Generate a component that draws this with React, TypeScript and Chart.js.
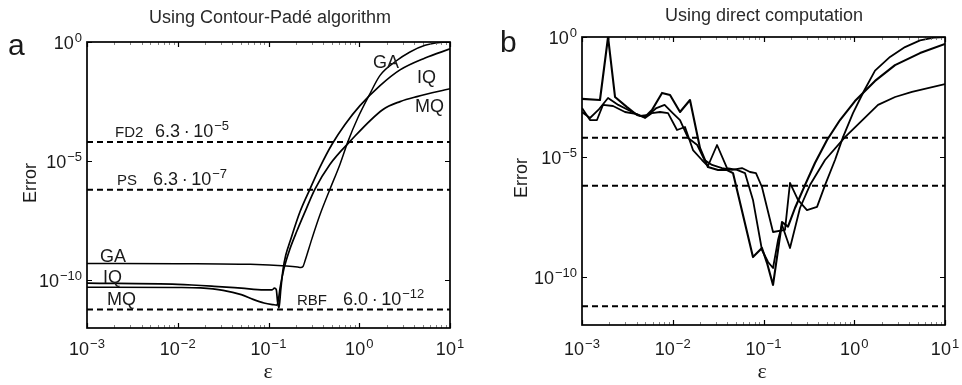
import React, { useEffect, useRef } from "react";
import { Chart, registerables } from "chart.js";

Chart.register(...registerables);

// ---------------- data (values are log10 readings off the log axes) ----------------
const EPS_MIN = 1e-3;
const EPS_MAX = 10;
const ERR_MIN = 1e-12;
const ERR_MAX = 1;
const EPS_TICKS = [1e-3, 1e-2, 1e-1, 1, 10];
const ERR_TICKS = [1e-10, 1e-5, 1];

const REF_NAMES = ["FD2", "PS", "RBF"];
const REF_VALUES = [6.3e-5, 6.3e-7, 6.0e-12];
const REF_MANTISSAS = ["6.3", "6.3", "6.0"];
const REF_EXPONENTS = [-5, -7, -12];

const BASIS_NAMES = ["GA", "IQ", "MQ"];

// Panel a: Contour-Padé
const gaPadeLogEps = [-3, -2, -1.2, -0.8, -0.68, -0.645, -0.62, -0.6, -0.521, -0.433, -0.322, -0.212, -0.124, -0.014, 0.107, 0.229, 0.394, 0.559, 0.725, 0.89, 1.0];
const gaPadeLogErr = [-9.29, -9.3, -9.33, -9.4, -9.44, -9.46, -9.42, -9.21, -8.25, -7.25, -6.17, -5.125, -4.17, -3.17, -2.25, -1.4, -0.83, -0.42, -0.14, -0.02, 0];

const iqPadeLogEps = [-3, -2, -1.6, -1.3, -1.05, -0.96, -0.935, -0.915, -0.9, -0.885, -0.865, -0.84, -0.81, -0.763, -0.653, -0.543, -0.433, -0.3, -0.157, 0.008, 0.229, 0.449, 0.725, 1.0];
const iqPadeLogErr = [-10.12, -10.17, -10.25, -10.33, -10.4, -10.4, -10.33, -10.38, -10.9, -11.17, -10.4, -9.55, -8.95, -8.375, -7.125, -6.17, -5.25, -4.29, -3.46, -2.67, -1.83, -1.17, -0.67, -0.29];

const mqPadeLogEps = [-3, -2, -1.75, -1.5, -1.3, -1.17, -1.05, -0.95, -0.906, -0.89, -0.873, -0.829, -0.763, -0.686, -0.598, -0.488, -0.322, -0.102, 0.262, 0.45, 0.636, 1.0];
const mqPadeLogErr = [-10.29, -10.3, -10.32, -10.42, -10.6, -10.8, -10.95, -11.02, -11.04, -10.8, -10.33, -9.5, -8.67, -7.92, -7.125, -6.17, -5.125, -4.17, -2.83, -2.5, -2.29, -1.96];

// Panel b: direct computation
const gaDirectLogEps = [-3, -2.912, -2.82, -2.713, -2.6, -2.49, -2.36, -2.27, -2.18, -2.09, -2.0, -1.92, -1.83, -1.73, -1.65, -1.567, -1.457, -1.347, -1.237, -1.149, -1.083, -1.017, -0.895, -0.763, -0.708, -0.62, -0.521, -0.41, -0.322, -0.212, -0.124, -0.014, 0.107, 0.229, 0.394, 0.559, 0.725, 0.89, 1.0];
const gaDirectLogErr = [-3.125, -3.375, -3.04, -2.54, -2.83, -3.04, -3.29, -3.25, -2.96, -2.83, -3.17, -3.46, -4.21, -4.5, -5.125, -5.33, -5.46, -5.54, -5.46, -5.625, -5.67, -6.25, -8.125, -8.04, -6.08, -6.79, -7.21, -7.08, -6.17, -5.125, -4.17, -3.17, -2.25, -1.4, -0.83, -0.42, -0.14, -0.02, 0];

const iqDirectLogEps = [-3, -2.802, -2.713, -2.636, -2.504, -2.394, -2.306, -2.229, -2.118, -2.03, -1.92, -1.81, -1.7, -1.612, -1.501, -1.402, -1.336, -1.116, -1.017, -0.961, -0.895, -0.796, -0.73, -0.653, -0.543, -0.433, -0.3, -0.157, 0.008, 0.229, 0.449, 0.725, 1.0];
const iqDirectLogErr = [-2.58, -2.625, 0, -2.5, -2.92, -3.25, -3.33, -3.04, -2.33, -2.42, -3.125, -2.625, -4.625, -5.42, -5.54, -5.54, -5.67, -9.17, -8.79, -9.42, -10.33, -7.71, -7.9, -7.125, -6.17, -5.25, -4.29, -3.46, -2.67, -1.83, -1.17, -0.67, -0.29];

const mqDirectLogEps = [-3, -2.912, -2.835, -2.769, -2.658, -2.526, -2.394, -2.306, -2.229, -2.14, -2.052, -1.953, -1.865, -1.777, -1.678, -1.612, -1.512, -1.402, -1.292, -1.204, -1.116, -1.017, -0.95, -0.895, -0.84, -0.796, -0.708, -0.598, -0.488, -0.322, -0.102, 0.262, 0.45, 0.636, 1.0];
const mqDirectLogErr = [-2.96, -3.46, -3.46, -2.83, -2.875, -3.125, -3.21, -3.375, -3.17, -3.125, -3.17, -3.875, -3.75, -4.71, -5.125, -5.375, -4.5, -5.46, -5.54, -5.67, -6.79, -8.875, -9.375, -9.625, -8.46, -7.83, -8.79, -7.125, -6.17, -5.125, -4.17, -2.83, -2.5, -2.29, -1.96];

// ---------------- styling / layout ----------------
const W = 481;
const H = 385;
const FONT = '"Liberation Sans", Arial, Helvetica, sans-serif';
const SERIF = '"Liberation Serif", "Times New Roman", serif';
const INK = "#1a1a1a";

type Series = { eps: number[]; err: number[]; width: number; smooth: boolean };
type Label = { text: string; x: number; y: number; size: number };
type PowLabel = { base: string; exp: string; x: number; y: number; size: number };

interface PanelSpec {
  area: { left: number; top: number; right: number; bottom: number };
  title: string;
  titleX: number;
  titleY: number;
  letter: string;
  letterX: number;
  letterY: number;
  errorX: number;
  errorY: number;
  epsX: number;
  epsY: number;
  tickLabelY: number;
  series: Series[];
  labels: Label[];
  powLabels: PowLabel[];
}

const expText = (n: number) => (n < 0 ? "\u2212" + String(-n) : String(n));
const refValueText = (i: number) => REF_MANTISSAS[i] + "\u2009\u00b7\u200910";

const PANEL_A: PanelSpec = {
  area: { left: 87, top: 42, right: 450, bottom: 328 },
  title: "Using Contour-Padé algorithm",
  titleX: 270,
  titleY: 23,
  letter: "a",
  letterX: 8,
  letterY: 55,
  errorX: 36,
  errorY: 183,
  epsX: 268,
  epsY: 378,
  tickLabelY: 355,
  series: [
    { eps: gaPadeLogEps, err: gaPadeLogErr, width: 1.5, smooth: true },
    { eps: iqPadeLogEps, err: iqPadeLogErr, width: 1.7, smooth: true },
    { eps: mqPadeLogEps, err: mqPadeLogErr, width: 1.7, smooth: true },
  ],
  labels: [
    { text: BASIS_NAMES[0], x: 286, y: 26, size: 18 },
    { text: BASIS_NAMES[1], x: 330, y: 41, size: 18 },
    { text: BASIS_NAMES[2], x: 328, y: 70, size: 18 },
    { text: BASIS_NAMES[0], x: 13, y: 220, size: 18 },
    { text: BASIS_NAMES[1], x: 16, y: 241, size: 18 },
    { text: BASIS_NAMES[2], x: 20, y: 263, size: 18 },
    { text: REF_NAMES[0], x: 28, y: 95, size: 15 },
    { text: REF_NAMES[1], x: 30, y: 143, size: 15 },
    { text: REF_NAMES[2], x: 210, y: 263, size: 15 },
  ],
  powLabels: [
    { base: refValueText(0), exp: expText(REF_EXPONENTS[0]), x: 68, y: 95, size: 18 },
    { base: refValueText(1), exp: expText(REF_EXPONENTS[1]), x: 66, y: 143, size: 18 },
    { base: refValueText(2), exp: expText(REF_EXPONENTS[2]), x: 256, y: 263, size: 18 },
  ],
};

const PANEL_B: PanelSpec = {
  area: { left: 101, top: 37, right: 464, bottom: 325 },
  title: "Using direct computation",
  titleX: 283,
  titleY: 21,
  letter: "b",
  letterX: 19,
  letterY: 52,
  errorX: 46,
  errorY: 178,
  epsX: 281,
  epsY: 378,
  tickLabelY: 355,
  series: [
    { eps: gaDirectLogEps, err: gaDirectLogErr, width: 1.8, smooth: false },
    { eps: iqDirectLogEps, err: iqDirectLogErr, width: 2.1, smooth: false },
    { eps: mqDirectLogEps, err: mqDirectLogErr, width: 1.8, smooth: false },
  ],
  labels: [],
  powLabels: [],
};

// ---------------- drawing helpers ----------------
function drawPow(
  ctx: CanvasRenderingContext2D,
  base: string,
  exp: string,
  x: number,
  y: number,
  size: number,
  align: "left" | "center" | "right"
) {
  const es = Math.round(size * 0.74);
  ctx.font = `${size}px ${FONT}`;
  const w1 = ctx.measureText(base).width;
  ctx.font = `${es}px ${FONT}`;
  const w2 = ctx.measureText(exp).width;
  const total = w1 + 1 + w2;
  const x0 = align === "center" ? x - total / 2 : align === "right" ? x - total : x;
  ctx.textAlign = "left";
  ctx.textBaseline = "alphabetic";
  ctx.font = `${size}px ${FONT}`;
  ctx.fillText(base, x0, y);
  ctx.font = `${es}px ${FONT}`;
  ctx.fillText(exp, x0 + w1 + 1, y - size * 0.38);
}

function decorPlugin(p: PanelSpec) {
  return {
    id: "decor",
    afterDraw(chart: any) {
      const ctx: CanvasRenderingContext2D = chart.ctx;
      const a = chart.chartArea;
      const xs = chart.scales.x;
      const ys = chart.scales.y;
      ctx.save();
      ctx.strokeStyle = "#000";
      ctx.fillStyle = INK;

      // inward ticks on x (major + minor) at top and bottom
      for (let d = -3; d <= 1; d++) {
        for (let m = 1; m <= 9; m++) {
          const v = m * Math.pow(10, d);
          if (v > EPS_MAX * 1.0001) break;
          const px = Math.round(xs.getPixelForValue(v)) + 0.5;
          const len = m === 1 ? 5 : 3;
          ctx.lineWidth = m === 1 ? 1.2 : 0.8;
          ctx.strokeStyle = m === 1 ? "#000" : "#666";
          ctx.beginPath();
          ctx.moveTo(px, a.bottom);
          ctx.lineTo(px, a.bottom - len);
          ctx.moveTo(px, a.top);
          ctx.lineTo(px, a.top + len);
          ctx.stroke();
        }
      }
      // inward major ticks on y at left and right
      ctx.strokeStyle = "#000";
      ctx.lineWidth = 1.2;
      for (const v of ERR_TICKS) {
        const py = Math.round(ys.getPixelForValue(v)) + 0.5;
        ctx.beginPath();
        ctx.moveTo(a.left, py);
        ctx.lineTo(a.left + 5, py);
        ctx.moveTo(a.right, py);
        ctx.lineTo(a.right - 5, py);
        ctx.stroke();
      }

      // frame
      ctx.lineWidth = 1.7;
      ctx.strokeRect(a.left, a.top, a.right - a.left, a.bottom - a.top);

      // tick labels
      for (const v of EPS_TICKS) {
        const px = xs.getPixelForValue(v);
        drawPow(ctx, "10", expText(Math.round(Math.log10(v))), px, p.tickLabelY, 18, "center");
      }
      for (const v of ERR_TICKS) {
        const py = ys.getPixelForValue(v);
        drawPow(ctx, "10", expText(Math.round(Math.log10(v))), a.left - 5, py + 7, 18, "right");
      }

      // in-plot labels
      ctx.textAlign = "left";
      ctx.textBaseline = "alphabetic";
      for (const l of p.labels) {
        ctx.font = `${l.size}px ${FONT}`;
        ctx.fillText(l.text, a.left + l.x, a.top + l.y);
      }
      for (const l of p.powLabels) {
        drawPow(ctx, l.base, l.exp, a.left + l.x, a.top + l.y, l.size, "left");
      }

      // title
      ctx.fillStyle = "#2a2a2a";
      ctx.font = `18px ${FONT}`;
      ctx.textAlign = "center";
      ctx.fillText(p.title, p.titleX, p.titleY);

      // panel letter
      ctx.fillStyle = INK;
      ctx.font = `30px ${FONT}`;
      ctx.textAlign = "left";
      ctx.fillText(p.letter, p.letterX, p.letterY);

      // axis titles
      ctx.font = `22px ${SERIF}`;
      ctx.textAlign = "center";
      ctx.fillText("\u03b5", p.epsX, p.epsY);

      ctx.save();
      ctx.translate(p.errorX, p.errorY);
      ctx.rotate(-Math.PI / 2);
      ctx.font = `18px ${FONT}`;
      ctx.textAlign = "center";
      ctx.fillText("Error", 0, 0);
      ctx.restore();

      ctx.restore();
    },
  };
}

function toPoints(logEps: number[], logErr: number[]) {
  return logEps.map((e, i) => ({ x: Math.pow(10, e), y: Math.pow(10, logErr[i]) }));
}

function buildConfig(p: PanelSpec): any {
  const datasets: any[] = [];
  for (const v of REF_VALUES) {
    datasets.push({
      data: [
        { x: EPS_MIN, y: v },
        { x: EPS_MAX, y: v },
      ],
      borderColor: "#000",
      borderWidth: 2,
      borderDash: [6, 4],
      pointRadius: 0,
      fill: false,
    });
  }
  for (const s of p.series) {
    datasets.push({
      data: toPoints(s.eps, s.err),
      borderColor: "#000",
      borderWidth: s.width,
      pointRadius: 0,
      fill: false,
      tension: 0,
      cubicInterpolationMode: s.smooth ? "monotone" : "default",
      borderJoinStyle: "round",
    });
  }
  return {
    type: "line",
    data: { datasets },
    options: {
      responsive: false,
      animation: false,
      devicePixelRatio: 1,
      events: [],
      layout: { padding: { left: 0, top: p.area.top, right: W - p.area.right, bottom: 0 } },
      plugins: {
        legend: { display: false },
        tooltip: { enabled: false },
        title: { display: false },
      },
      scales: {
        x: {
          type: "logarithmic",
          min: EPS_MIN,
          max: EPS_MAX,
          grid: { display: false },
          border: { display: false },
          ticks: { display: false },
          afterBuildTicks: (s: any) => {
            s.ticks = EPS_TICKS.map((v) => ({ value: v }));
          },
          afterFit: (s: any) => {
            s.height = H - p.area.bottom;
          },
        },
        y: {
          type: "logarithmic",
          min: ERR_MIN,
          max: ERR_MAX,
          grid: { display: false },
          border: { display: false },
          ticks: { display: false },
          afterBuildTicks: (s: any) => {
            s.ticks = ERR_TICKS.map((v) => ({ value: v }));
          },
          afterFit: (s: any) => {
            s.width = p.area.left;
          },
        },
      },
    },
    plugins: [decorPlugin(p)],
  };
}

function Panel({ spec, left }: { spec: PanelSpec; left: number }) {
  const ref = useRef<HTMLCanvasElement>(null);
  useEffect(() => {
    const chart = new Chart(ref.current as HTMLCanvasElement, buildConfig(spec));
    return () => chart.destroy();
  }, [spec]);
  return (
    <canvas
      ref={ref}
      width={W}
      height={H}
      style={{ position: "absolute", left, top: 0, width: W, height: H }}
    />
  );
}

export default function App() {
  return (
    <div
      style={{
        position: "fixed",
        left: 0,
        top: 0,
        width: 962,
        height: 385,
        background: "#fff",
        overflow: "hidden",
      }}
    >
      <Panel spec={PANEL_A} left={0} />
      <Panel spec={PANEL_B} left={481} />
    </div>
  );
}
